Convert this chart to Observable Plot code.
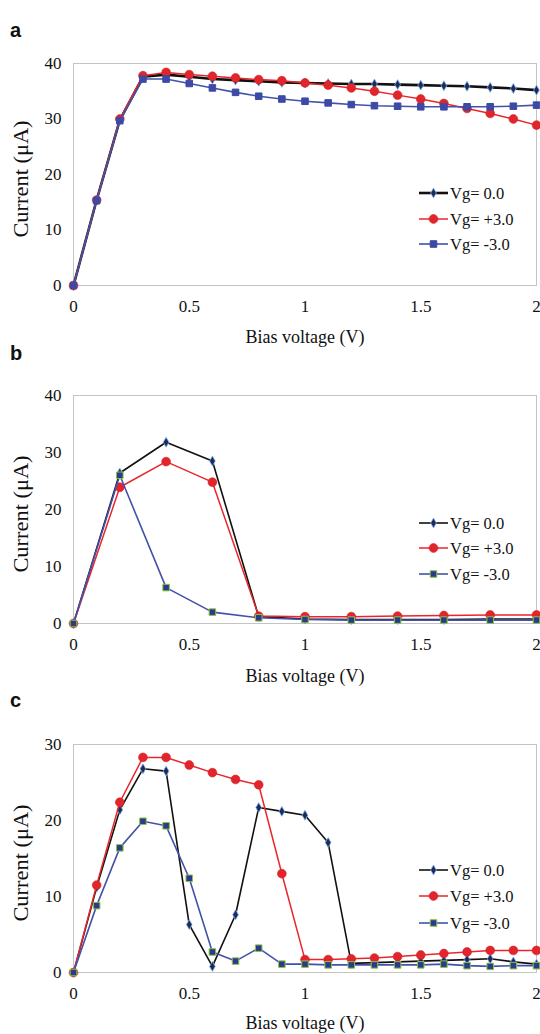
<!DOCTYPE html>
<html><head><meta charset="utf-8">
<script src="https://cdn.jsdelivr.net/npm/d3@7"></script>
<script src="https://cdn.jsdelivr.net/npm/@observablehq/plot@0.6"></script>
<style>
body{margin:0;background:#fff;width:540px;height:1034px;position:relative;overflow:hidden;font-family:"Liberation Serif","Times New Roman",serif;color:#111}
.plab{position:absolute;left:10px;font:bold 20px "Liberation Sans",Arial,sans-serif;line-height:1}
.xt{position:absolute;left:73px;width:464px;text-align:center;font-size:18px;line-height:1;font-family:"Liberation Serif",serif}
.yt{position:absolute;font-size:20px;white-space:nowrap;transform:translate(-50%,-50%) rotate(-90deg) scaleX(1.12);line-height:1;font-family:"Liberation Serif",serif}
</style></head><body>
<script>
// ---- data ----
const xFine = [0,0.1,0.2,0.3,0.4,0.5,0.6,0.7,0.8,0.9,1.0,1.1,1.2,1.3,1.4,1.5,1.6,1.7,1.8,1.9,2.0];
const xCoarse = [0,0.2,0.4,0.6,0.8,1.0,1.2,1.4,1.6,1.8,2.0];
const seriesNames = ["Vg= 0.0","Vg= +3.0","Vg= -3.0"];
const panelLabels = ["a","b","c"];
const xTicks = [0,0.5,1,1.5,2];
const xTickLabels = ["0","0.5","1","1.5","2"];
const yTicksAB = [0,10,20,30,40];
const yTicksC = [0,10,20,30];
const xTitle = "Bias voltage (V)";
const yTitle = "Current (μA)";

// panel a
const aVg0  = [0,15.4,29.8,37.6,38.0,37.6,37.2,37.0,36.8,36.6,36.5,36.4,36.3,36.3,36.2,36.1,36.0,35.9,35.7,35.5,35.2];
const aVgP3 = [0,15.4,30.0,37.8,38.4,38.0,37.7,37.4,37.1,36.9,36.5,36.1,35.6,35.0,34.3,33.6,32.8,31.9,31.0,30.0,28.9];
const aVgM3 = [0,15.3,29.7,37.2,37.2,36.4,35.6,34.8,34.1,33.6,33.2,32.9,32.6,32.4,32.3,32.2,32.2,32.2,32.2,32.3,32.5];
// panel b
const bVg0  = [0,26.4,31.8,28.5,1.2,0.8,0.7,0.7,0.7,0.8,0.8];
const bVgP3 = [0,23.9,28.4,24.8,1.3,1.2,1.2,1.3,1.4,1.5,1.5];
const bVgM3 = [0,26.0,6.3,2.0,1.0,0.7,0.6,0.6,0.6,0.6,0.6];
// panel c
const cVg0  = [0,11.2,21.4,26.8,26.5,6.3,0.8,7.6,21.7,21.2,20.7,17.1,1.2,1.3,1.4,1.5,1.6,1.7,1.8,1.4,1.1];
const cVgP3 = [0,11.5,22.4,28.3,28.3,27.3,26.3,25.4,24.7,13.0,1.7,1.7,1.8,1.9,2.1,2.3,2.5,2.7,2.9,2.9,2.9];
const cVgM3 = [0,8.8,16.4,19.9,19.3,12.4,2.7,1.5,3.2,1.1,1.1,1.0,1.0,1.0,1.0,1.0,1.1,0.9,0.8,0.9,0.9];

// ---- styles ----
function styles(panelIdx){
  const sq = panelIdx === 0
    ? {fill:"#3c4aa6", mstroke:"#3c4aa6"}
    : {fill:"#2a3b8f", mstroke:"#8cc43f"};
  return [
    {line:"#111", sw: panelIdx===0?2.6:1.6, symbol:"diamond", r:3.0, fill:"#1c2a5e", mstroke:"#7fb2e5", msw:0.8},
    {line:"#e8262b", sw:1.5, symbol:"circle", r:4.4, fill:"#e2252b", mstroke:"#d42028", msw:0.6},
    {line:"#4352a8", sw:1.6, symbol:"square", r:3.7, fill:sq.fill, mstroke:sq.mstroke, msw:1.0}
  ];
}

const panels = [
  {top:40, plotTop:63, plotBot:285, yMax:40, yTicks:yTicksAB, xs:xFine, ys:[aVg0,aVgP3,aVgM3], legendY:[193,219,244], labY:20, xtY:328},
  {top:372, plotTop:395, plotBot:623, yMax:40, yTicks:yTicksAB, xs:xCoarse, ys:[bVg0,bVgP3,bVgM3], legendY:[523,548,574], labY:343, xtY:667},
  {top:721, plotTop:744, plotBot:972, yMax:30, yTicks:yTicksC, xs:xFine, ys:[cVg0,cVgP3,cVgM3], legendY:[870,896,923], labY:690, xtY:1014}
];

const SERIF = "Liberation Serif";

panels.forEach((p, pi) => {
  const st = styles(pi);
  const mt = p.plotTop - p.top;
  const ph = p.plotBot - p.plotTop;
  const mb = 32;
  const marks = [
    Plot.frame({stroke:"#c4c4c4", strokeWidth:1}),
    Plot.axisX({ticks:xTicks, tickFormat:(d,i)=>xTickLabels[i], tickSize:0, tickPadding:14, label:null,
      fontFamily:SERIF, fontSize:17, fontVariant:"normal", fill:"#111"}),
    Plot.axisY({ticks:p.yTicks, tickSize:0, tickPadding:12, label:null,
      fontFamily:SERIF, fontSize:17, fontVariant:"normal", fill:"#111"})
  ];
  p.ys.forEach((arr, si) => {
    const rows = arr.map((v,i)=>({x:p.xs[i], y:v}));
    marks.push(Plot.line(rows, {x:"x", y:"y", stroke:st[si].line, strokeWidth:st[si].sw}));
    marks.push(Plot.dot(rows, {x:"x", y:"y", symbol:st[si].symbol, r:st[si].r, fill:st[si].fill, stroke:st[si].mstroke, strokeWidth:st[si].msw}));
  });
  const chart = Plot.plot({
    width:540, height: mt + ph + mb,
    marginLeft:73, marginRight:4, marginTop:mt, marginBottom:mb,
    style:"font-family:'Liberation Serif',serif;font-size:17px;color:#111;background:transparent;overflow:visible;",
    x:{domain:[0,2]},
    y:{domain:[0,p.yMax]},
    marks
  });
  chart.style.position = "absolute";
  chart.style.left = "0px";
  chart.style.top = p.top + "px";
  chart.style.overflow = "visible";
  document.body.appendChild(chart);

  const lab = document.createElement("div");
  lab.className = "plab"; lab.textContent = panelLabels[pi];
  lab.style.top = p.labY + "px";
  document.body.appendChild(lab);
  const xt = document.createElement("div");
  xt.className = "xt"; xt.textContent = xTitle; xt.style.top = p.xtY + "px";
  document.body.appendChild(xt);
  const yt = document.createElement("div");
  yt.className = "yt"; yt.textContent = yTitle;
  yt.style.left = "21px"; yt.style.top = ((p.plotTop + p.plotBot)/2 + 5) + "px";
  document.body.appendChild(yt);

  const svg = d3.select(document.body).append("svg")
    .attr("width",540).attr("height",1034)
    .style("position","absolute").style("left","0px").style("top","0px");
  seriesNames.forEach((name, si) => {
    const y = p.legendY[si];
    svg.append("line").attr("x1",419).attr("x2",448).attr("y1",y).attr("y2",y)
      .attr("stroke",st[si].line).attr("stroke-width",st[si].sw);
    const sym = d3.symbol().type(
      st[si].symbol==="diamond" ? d3.symbolDiamond : st[si].symbol==="circle" ? d3.symbolCircle : d3.symbolSquare
    ).size(Math.PI*st[si].r*st[si].r);
    svg.append("path").attr("d",sym()).attr("transform",`translate(433.5,${y})`)
      .attr("fill",st[si].fill).attr("stroke",st[si].mstroke).attr("stroke-width",st[si].msw);
    svg.append("text").attr("x",450).attr("y",y).attr("dy","0.35em")
      .attr("font-family",SERIF).attr("font-size",16.5)
      .attr("fill","#111").text(name);
  });
});
</script>
</body></html>
